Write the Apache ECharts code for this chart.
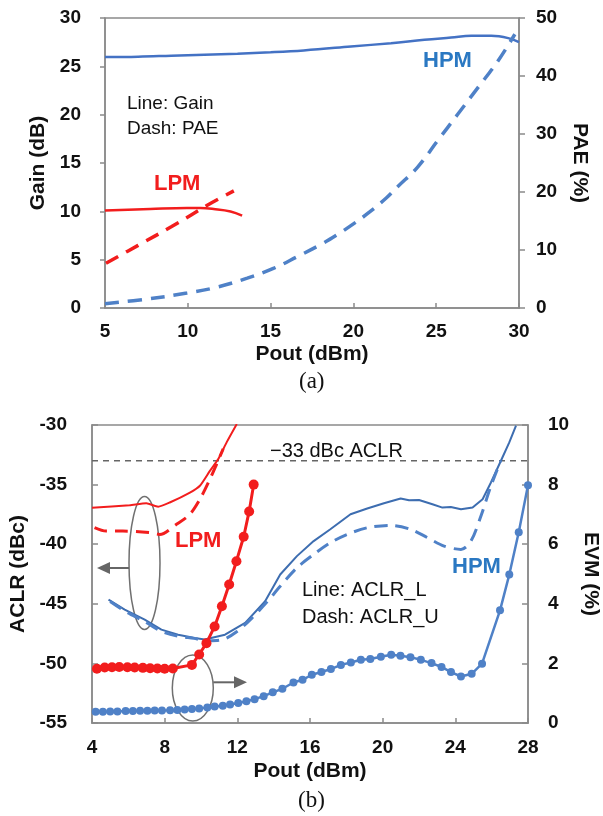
<!DOCTYPE html>
<html>
<head>
<meta charset="utf-8">
<script src="https://cdn.jsdelivr.net/npm/echarts@6/dist/echarts.min.js"></script>
<style>
html,body{margin:0;padding:0;background:#fff;}
#c{width:603px;height:816px;}
</style>
</head>
<body>
<div id="c"></div>
<script>
// ---------- (a) Gain / PAE vs Pout ----------
var hpmGainX = [5, 7, 9, 11, 13, 15, 17, 19.85, 22.27, 24.29, 25.9, 27.12, 28.33, 29.35, 30];
var hpmGain  = [25.96, 26.0, 26.1, 26.2, 26.3, 26.45, 26.65, 27.05, 27.4, 27.75, 27.98, 28.16, 28.16, 27.92, 27.5];
var hpmPaeX  = [5, 7.53, 9.95, 11.77, 13.59, 15.2, 16.61, 18, 19, 20, 21, 22, 22.67, 23.88, 25.1, 26.3, 27.52, 28.73, 29.75];
var hpmPae   = [0.74, 1.54, 2.57, 3.6, 5.14, 6.86, 8.85, 10.9, 12.6, 14.5, 16.6, 19.0, 20.9, 24.3, 28.9, 33.4, 38.0, 42.6, 47.2];
var lpmGainX = [5, 7.73, 9.95, 10.76, 11.56, 12.58, 13.28];
var lpmGain  = [10.09, 10.24, 10.34, 10.34, 10.24, 9.99, 9.55];
var lpmPaeX  = [5.06, 7, 9, 11.36, 12.78];
var lpmPae   = [7.72, 10.8, 14.0, 18.0, 20.2];

// ---------- (b) ACLR / EVM vs Pout ----------
var lpmAclrLX = [4.0, 6.07, 6.99, 7.64, 8.28, 9.39, 9.94, 10.49, 10.95, 11.41, 11.97];
var lpmAclrL  = [-36.95, -36.73, -36.57, -36.85, -36.5, -35.67, -35.1, -33.85, -32.86, -31.46, -29.92];
var lpmAclrUX = [4.14, 4.78, 5.7, 7.18, 7.73, 8.65, 9.39, 9.94, 10.49, 10.86, 11.22];
var lpmAclrU  = [-38.61, -38.9, -38.9, -39.03, -39.18, -38.33, -37.49, -36.23, -34.55, -33.28, -32.0];
var lpmEvmX = [4.27, 4.7, 5.1, 5.5, 5.95, 6.35, 6.8, 7.2, 7.6, 8.0, 8.45, 9.5, 9.9, 10.3, 10.75, 11.15, 11.55, 11.95, 12.35, 12.65, 12.9];
var lpmEvm  = [1.82, 1.86, 1.87, 1.88, 1.87, 1.86, 1.85, 1.84, 1.83, 1.82, 1.83, 1.95, 2.3, 2.68, 3.24, 3.92, 4.65, 5.43, 6.25, 7.1, 8.0];
var hpmAclrLX = [4.91, 5.8, 6.9, 7.82, 8.74, 9.66, 10.2, 11.32, 12.43, 13.53, 14.36, 15.28, 16.2, 17.12, 18.23, 19.15, 20.07, 20.99, 21.45, 22.0, 22.74, 23.29, 23.75, 24.31, 24.95, 25.5, 25.96, 26.51, 26.97, 27.34];
var hpmAclrL  = [-44.65, -45.49, -46.33, -47.17, -47.59, -47.87, -48.0, -47.59, -46.6, -44.79, -42.54, -41.0, -39.74, -38.75, -37.49, -37.01, -36.57, -36.17, -36.31, -36.29, -36.65, -36.93, -36.88, -37.07, -36.93, -36.23, -34.82, -33.0, -31.46, -30.05];
var hpmAclrUX = [5.0, 5.8, 6.9, 7.8, 8.7, 9.6, 10.4, 11.2, 12.0, 12.8, 13.6, 14.36, 15.28, 16.2, 17.12, 18.04, 19.15, 20.44, 21.54, 22.46, 23.38, 24.31, 24.86, 25.41, 25.96, 26.5];
var hpmAclrU  = [-44.8, -45.6, -46.5, -47.3, -47.7, -47.9, -48.1, -48.0, -47.3, -46.2, -44.9, -43.53, -41.98, -40.86, -39.88, -39.18, -38.62, -38.42, -38.75, -39.45, -40.16, -40.44, -39.74, -37.63, -35.11, -33.0];
var hpmEvmX = [4.2, 4.6, 5.0, 5.4, 5.85, 6.25, 6.65, 7.05, 7.45, 7.85, 8.3, 8.7, 9.1, 9.5, 9.9, 10.35, 10.75, 11.2, 11.6, 12.05, 12.5, 12.95, 13.45, 13.95, 14.48, 15.09, 15.59, 16.1, 16.63, 17.15, 17.7, 18.25, 18.8, 19.32, 19.9, 20.47, 20.98, 21.53, 22.1, 22.69, 23.24, 23.76, 24.31, 24.9, 25.47, 26.46, 26.97, 27.49, 28.0];
var hpmEvm  = [0.38, 0.38, 0.39, 0.39, 0.4, 0.4, 0.41, 0.41, 0.42, 0.42, 0.43, 0.44, 0.45, 0.47, 0.49, 0.52, 0.55, 0.58, 0.62, 0.67, 0.73, 0.8, 0.9, 1.03, 1.15, 1.36, 1.45, 1.62, 1.71, 1.81, 1.95, 2.03, 2.12, 2.15, 2.22, 2.29, 2.26, 2.21, 2.12, 2.01, 1.88, 1.71, 1.56, 1.65, 1.99, 3.78, 4.98, 6.4, 7.98];
var limitX = [4, 28];
var limitAclr = [-33, -33];

function zip(xs, ys) { return xs.map(function (x, i) { return [x, ys[i]]; }); }

var FONT = 'Liberation Sans, Arial, sans-serif';
var AX = '#8a8a8a';
var RED = '#f21d1d';
var BLUE = '#4472c4';
var BLUE2 = '#4f81c7';
var HBLUE = '#2a78c2';

function axisCommon(tickInside, tickLen, margin) {
  return {
    axisLine: { show: true, onZero: false, lineStyle: { color: AX, width: 1.5 } },
    axisTick: { show: true, inside: tickInside, length: tickLen, lineStyle: { color: AX, width: 1.5 } },
    axisLabel: { margin: margin, color: '#111', fontFamily: FONT, fontWeight: 'bold', fontSize: 19 },
    splitLine: { show: false },
    nameTextStyle: { color: '#111', fontFamily: FONT, fontWeight: 'bold', fontSize: 21 }
  };
}
function mk(base, extra) { var o = {}; for (var k in base) o[k] = base[k]; for (var k2 in extra) o[k2] = extra[k2]; return o; }

var chart = echarts.init(document.getElementById('c'), null, { renderer: 'canvas' });

var option = {
  animation: false,
  backgroundColor: '#fff',
  grid: [
    { left: 105, top: 18, width: 414, height: 290, show: true, borderColor: AX, borderWidth: 1.5,
      containLabel: false, outerBoundsMode: 'none' },
    { left: 92, top: 425, width: 436, height: 298, show: true, borderColor: AX, borderWidth: 1.5,
      containLabel: false, outerBoundsMode: 'none' }
  ],
  xAxis: [
    mk(axisCommon(true, 5, 14), { gridIndex: 0, type: 'value', min: 5, max: 30, interval: 5,
      name: 'Pout (dBm)', nameLocation: 'middle', nameGap: 36 }),
    mk(axisCommon(true, 5, 15), { gridIndex: 1, type: 'value', min: 4, max: 28, interval: 4,
      name: 'Pout (dBm)', nameLocation: 'middle', nameGap: 38 })
  ],
  yAxis: [
    mk(axisCommon(false, 5, 24), { gridIndex: 0, type: 'value', min: 0, max: 30, interval: 5, position: 'left',
      name: 'Gain (dB)', nameLocation: 'middle', nameGap: 55, nameRotate: 90 }),
    mk(axisCommon(false, 6, 17), { gridIndex: 0, type: 'value', min: 0, max: 50, interval: 10, position: 'right',
      name: 'PAE (%)', nameLocation: 'middle', nameGap: 50, nameRotate: -90 }),
    mk(axisCommon(true, 6, 25), { gridIndex: 1, type: 'value', min: -55, max: -30, interval: 5, position: 'left',
      name: 'ACLR (dBc)', nameLocation: 'middle', nameGap: 60, nameRotate: 90 }),
    mk(axisCommon(true, 6, 20), { gridIndex: 1, type: 'value', min: 0, max: 10, interval: 2, position: 'right',
      name: 'EVM (%)', nameLocation: 'middle', nameGap: 51, nameRotate: -90 })
  ],
  series: [
    // (a)
    { type: 'line', xAxisIndex: 0, yAxisIndex: 0, data: zip(hpmGainX, hpmGain), smooth: 0.4, showSymbol: false, symbol: 'none',
      lineStyle: { color: BLUE, width: 2.5 } },
    { type: 'line', xAxisIndex: 0, yAxisIndex: 1, data: zip(hpmPaeX, hpmPae), smooth: 0.4, showSymbol: false, symbol: 'none',
      lineStyle: { color: BLUE2, width: 3.5, type: [14, 9] } },
    { type: 'line', xAxisIndex: 0, yAxisIndex: 0, data: zip(lpmGainX, lpmGain), smooth: 0.4, showSymbol: false, symbol: 'none',
      lineStyle: { color: RED, width: 2.5 } },
    { type: 'line', xAxisIndex: 0, yAxisIndex: 1, data: zip(lpmPaeX, lpmPae), smooth: 0.4, showSymbol: false, symbol: 'none',
      lineStyle: { color: RED, width: 3.5, type: [14, 9] } },
    // (b)
    { type: 'line', xAxisIndex: 1, yAxisIndex: 2, data: zip(limitX, limitAclr), showSymbol: false, symbol: 'none',
      lineStyle: { color: '#666', width: 1.5, type: [6, 5] } },
    { type: 'line', xAxisIndex: 1, yAxisIndex: 2, data: zip(lpmAclrLX, lpmAclrL), smooth: 0.2, showSymbol: false, symbol: 'none',
      lineStyle: { color: RED, width: 2 } },
    { type: 'line', xAxisIndex: 1, yAxisIndex: 2, data: zip(lpmAclrUX, lpmAclrU), smooth: 0.3, showSymbol: false, symbol: 'none',
      lineStyle: { color: RED, width: 3, type: [13, 8] } },
    { type: 'line', xAxisIndex: 1, yAxisIndex: 2, data: zip(hpmAclrLX, hpmAclrL), smooth: false, showSymbol: false, symbol: 'none',
      lineStyle: { color: '#3d6db0', width: 2 } },
    { type: 'line', xAxisIndex: 1, yAxisIndex: 2, data: zip(hpmAclrUX, hpmAclrU), smooth: 0.3, showSymbol: false, symbol: 'none',
      lineStyle: { color: BLUE2, width: 3, type: [13, 8] } },
    { type: 'line', xAxisIndex: 1, yAxisIndex: 3, data: zip(lpmEvmX, lpmEvm), smooth: false, symbol: 'circle', symbolSize: 10,
      itemStyle: { color: RED }, lineStyle: { color: RED, width: 3 } },
    { type: 'line', xAxisIndex: 1, yAxisIndex: 3, data: zip(hpmEvmX, hpmEvm), smooth: false, symbol: 'circle', symbolSize: 8,
      itemStyle: { color: BLUE2 }, lineStyle: { color: BLUE2, width: 2.5 } }
  ],
  graphic: [
    // (a) annotations
    { type: 'text', left: 127, top: 94, style: { text: 'Line: Gain', font: '19px ' + FONT, fill: '#111' } },
    { type: 'text', left: 127, top: 119, style: { text: 'Dash: PAE', font: '19px ' + FONT, fill: '#111' } },
    { type: 'text', left: 154, top: 173, style: { text: 'LPM', font: 'bold 22px ' + FONT, fill: RED } },
    { type: 'text', left: 423, top: 50, style: { text: 'HPM', font: 'bold 22px ' + FONT, fill: HBLUE } },
    { type: 'text', left: 299, top: 370, style: { text: '(a)', font: '23px Liberation Serif, Times New Roman, serif', fill: '#111' } },
    // (b) annotations
    { type: 'text', left: 270, top: 441, style: { text: '\u221233 dBc ACLR', font: '20px ' + FONT, fill: '#111' } },
    { type: 'text', left: 175, top: 530, style: { text: 'LPM', font: 'bold 22px ' + FONT, fill: RED } },
    { type: 'text', left: 452, top: 556, style: { text: 'HPM', font: 'bold 22px ' + FONT, fill: HBLUE } },
    { type: 'text', left: 302, top: 580, style: { text: 'Line: ACLR_L', font: '20px ' + FONT, fill: '#111' } },
    { type: 'text', left: 302, top: 607, style: { text: 'Dash: ACLR_U', font: '20px ' + FONT, fill: '#111' } },
    { type: 'text', left: 298, top: 789, style: { text: '(b)', font: '23px Liberation Serif, Times New Roman, serif', fill: '#111' } },
    { type: 'ellipse', shape: { cx: 144.5, cy: 563, rx: 15.5, ry: 66.5 }, style: { fill: 'none', stroke: '#707070', lineWidth: 1.5 } },
    { type: 'line', shape: { x1: 129, y1: 568, x2: 108, y2: 568 }, style: { stroke: '#666', lineWidth: 2 } },
    { type: 'polygon', shape: { points: [[97, 568], [110, 562], [110, 574]] }, style: { fill: '#666' } },
    { type: 'ellipse', shape: { cx: 192.8, cy: 688, rx: 20.5, ry: 33 }, style: { fill: 'none', stroke: '#707070', lineWidth: 1.5 } },
    { type: 'line', shape: { x1: 213.3, y1: 682.3, x2: 236, y2: 682.3 }, style: { stroke: '#666', lineWidth: 2 } },
    { type: 'polygon', shape: { points: [[247, 682.3], [234, 676.3], [234, 688.3]] }, style: { fill: '#666' } }
  ]
};
chart.setOption(option);
</script>
</body>
</html>
